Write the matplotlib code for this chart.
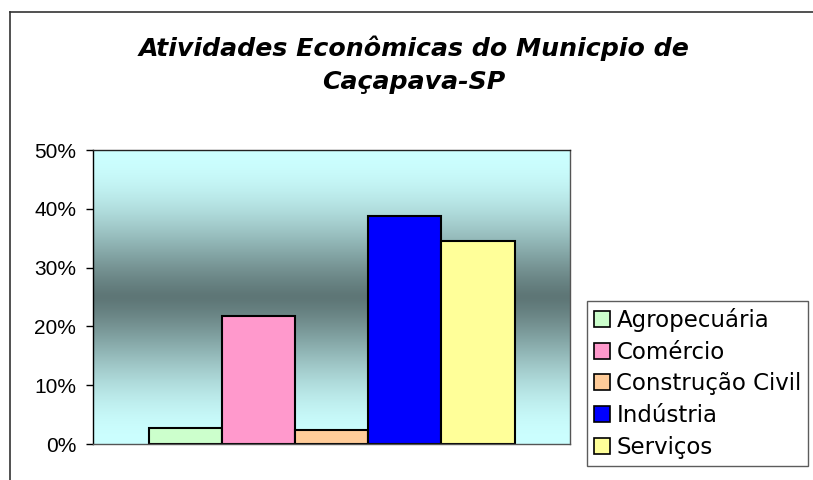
import numpy as np
import matplotlib
matplotlib.use('Agg')
import matplotlib.pyplot as plt
from matplotlib.patches import Patch
from matplotlib.lines import Line2D
from matplotlib.colors import to_rgb

# --- Data ---
categorias = ['Agropecuária', 'Comércio', 'Construção Civil', 'Indústria', 'Serviços']
valores = [0.027, 0.217, 0.023, 0.387, 0.346]
cores = ['#CCFFCC', '#FF99CC', '#FFCC99', '#0000FF', '#FFFF99']
yticks = [0.0, 0.1, 0.2, 0.3, 0.4, 0.5]
ytick_labels = ['0%', '10%', '20%', '30%', '40%', '50%']
titulo = 'Atividades Econômicas do Municpio de\nCaçapava-SP'

W, H = 813, 480
fig = plt.figure(figsize=(W / 100, H / 100), dpi=100)

# outer chart border (only top and left visible)
fig.add_artist(Line2D([10 / W, 10 / W], [0, 1 - 12 / H], color='#333333', lw=1.2))
fig.add_artist(Line2D([10 / W, 1], [1 - 12 / H, 1 - 12 / H], color='#333333', lw=1.2))

ax = fig.add_axes([93 / W, 36 / H, 477 / W, 294 / H])

# --- gradient background (light at edges, dark in middle) ---
light = np.array(to_rgb('#CCFFFF'))
dark = np.array(to_rgb('#5E7676'))
t = np.abs(np.linspace(-1, 1, 400))
f = np.sin(t * np.pi / 2) ** 1.3
grad = dark[None, :] + (light - dark)[None, :] * f[:, None]
grad = grad[:, None, :]
ax.imshow(grad, extent=(-0.5, 0.5, 0, 0.5), aspect='auto', origin='lower', zorder=0)

# --- bars ---
n = len(categorias)
w = (366 / 477) / n
x = (np.arange(n) - (n - 1) / 2) * w
ax.bar(x, valores, width=w, color=cores, edgecolor='black', linewidth=1.5, zorder=2)

ax.set_xlim(-0.5, 0.5)
ax.set_ylim(0, 0.5)
ax.set_xticks([])
ax.set_yticks(yticks)
ax.set_yticklabels(ytick_labels, family='Liberation Sans', fontsize=15)
ax.tick_params(axis='y', direction='out', length=5, width=1, pad=7)
for side in ['left', 'top', 'right', 'bottom']:
    ax.spines[side].set_linewidth(1)
ax.spines['left'].set_color('black')
ax.spines['top'].set_color('#222222')
ax.spines['right'].set_color('#555555')
ax.spines['bottom'].set_color('#555555')

# --- title ---
fig.text(414 / W, 1 - 65 / H, titulo, ha='center', va='center', fontsize=18.2,
         fontweight='bold', fontstyle='italic', family='DejaVu Sans', linespacing=1.45)

# --- legend ---
handles = [Patch(facecolor=c, edgecolor='black', linewidth=1.2) for c in cores]
leg = fig.legend(handles, categorias, loc='upper left', bbox_to_anchor=(587 / W, 1 - 301 / H),
                 frameon=True, fancybox=False, edgecolor='#333333', fontsize=16.5,
                 handlelength=0.7, handleheight=0.7, handletextpad=0.28,
                 labelspacing=0.38, borderpad=0.3, borderaxespad=0)
leg.get_frame().set_linewidth(1)

fig.savefig('out.png', dpi=100)
